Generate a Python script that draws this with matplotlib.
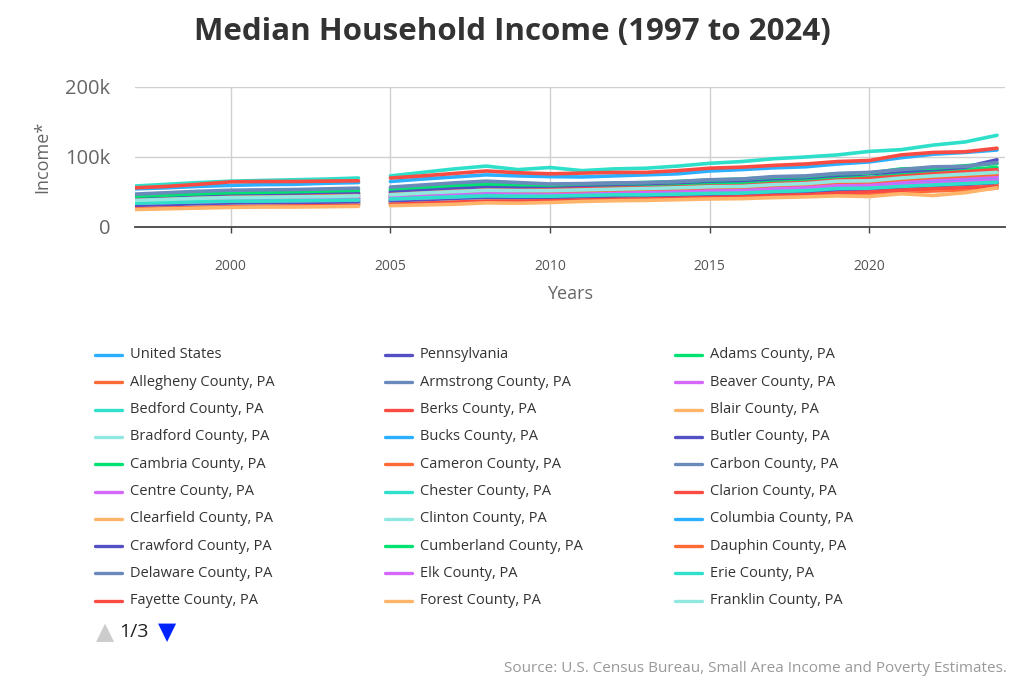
import matplotlib
matplotlib.use("Agg")
from matplotlib import pyplot as plt
from matplotlib.lines import Line2D

plt.rcParams['font.family'] = ['Open Sans', 'DejaVu Sans']

# years: two survey segments, the line breaks between 2004 and 2005
years_a = list(range(1997, 2005))
years_b = list(range(2005, 2025))

# median household income, thousands of dollars
united_states = [37.0, 38.9, 40.7, 42.0, 42.2, 42.4, 43.3, 44.3,
                 46.2, 48.5, 50.7, 52.0, 50.2, 50.0, 50.5, 51.4, 52.2, 53.7, 55.8, 57.6, 60.3, 61.9, 65.7, 67.3, 69.7, 74.6, 77.7, 80.6]
pennsylvania = [36.6, 38.0, 39.6, 40.1, 40.9, 41.5, 42.4, 43.6,
                44.5, 46.3, 48.6, 50.7, 49.5, 49.3, 50.2, 51.2, 52.0, 53.1, 55.0, 55.4, 58.0, 59.4, 63.4, 64.4, 68.9, 71.8, 76.0, 78.5]
adams = [39.5, 41.0, 43.0, 45.0, 45.5, 46.0, 47.5, 49.0,
         52.0, 54.5, 57.0, 58.5, 57.0, 56.5, 57.5, 58.5, 59.0, 60.5, 62.0, 63.0, 66.0, 67.5, 71.0, 70.5, 76.0, 78.5, 82.0, 85.0]
allegheny = [36.0, 37.5, 38.5, 39.5, 40.0, 40.5, 41.0, 41.5,
             43.5, 45.5, 47.5, 49.0, 48.5, 49.0, 50.0, 51.0, 51.5, 52.5, 54.0, 55.0, 58.0, 59.5, 63.0, 64.5, 68.0, 72.0, 75.5, 79.0]
armstrong = [31.0, 32.0, 33.5, 34.5, 35.0, 35.5, 36.0, 36.5,
             38.0, 39.5, 41.5, 43.5, 43.0, 44.0, 45.0, 46.0, 47.0, 48.5, 50.0, 50.5, 52.5, 54.0, 57.0, 58.0, 61.0, 63.5, 66.0, 68.0]
beaver = [35.0, 36.0, 37.5, 38.5, 39.0, 39.5, 40.0, 40.5,
          42.0, 44.0, 46.0, 48.0, 47.0, 47.0, 48.0, 49.0, 50.0, 51.0, 52.5, 53.0, 55.5, 57.0, 60.0, 61.0, 64.5, 67.5, 70.5, 73.0]
bedford = [29.0, 30.0, 31.5, 32.5, 33.0, 33.5, 34.0, 34.5,
           36.0, 37.5, 39.5, 41.0, 40.5, 41.0, 42.0, 43.0, 43.5, 45.0, 46.0, 46.5, 48.5, 50.0, 52.5, 54.0, 56.5, 59.0, 61.0, 63.0]
berks = [41.0, 42.5, 44.5, 46.0, 46.5, 47.0, 47.5, 48.0,
         49.5, 52.0, 54.5, 56.0, 54.5, 54.0, 55.0, 55.5, 56.0, 57.0, 58.5, 59.0, 62.0, 63.5, 67.0, 69.5, 72.5, 76.0, 79.0, 82.0]
blair = [30.0, 31.0, 32.5, 33.5, 34.0, 34.5, 35.0, 35.5,
         37.0, 38.5, 40.0, 41.5, 40.5, 41.0, 42.0, 42.5, 43.0, 44.0, 45.0, 46.0, 48.0, 49.0, 51.5, 52.0, 55.0, 57.5, 59.5, 62.0]
bradford = [31.0, 32.0, 33.5, 34.5, 35.0, 35.5, 36.0, 36.5,
            38.0, 40.0, 42.0, 44.0, 43.5, 43.5, 44.5, 45.5, 46.5, 47.5, 48.0, 49.0, 51.0, 52.5, 55.0, 56.0, 59.0, 62.0, 64.0, 66.0]
bucks = [54.5, 56.0, 58.0, 59.5, 60.5, 61.0, 62.5, 63.5,
         65.0, 68.5, 71.5, 74.5, 73.0, 72.0, 71.5, 73.0, 74.5, 76.0, 80.0, 82.0, 84.5, 86.0, 90.0, 93.0, 99.0, 104.0, 106.5, 110.0]
butler = [40.0, 41.5, 43.0, 45.0, 45.5, 46.0, 47.0, 48.0,
          50.0, 52.5, 55.0, 58.0, 57.5, 58.5, 59.5, 61.0, 62.0, 63.5, 65.5, 66.5, 69.0, 70.5, 74.0, 76.0, 79.5, 82.0, 85.5, 96.0]
cambria = [28.0, 29.0, 30.0, 31.0, 31.5, 32.0, 32.5, 33.0,
           34.5, 36.0, 37.5, 39.0, 39.0, 39.5, 40.5, 41.0, 41.5, 42.5, 44.0, 44.5, 46.5, 47.5, 49.5, 50.5, 53.0, 55.0, 56.5, 58.0]
cameron = [29.0, 30.0, 31.0, 32.0, 32.5, 32.5, 33.0, 33.5,
           34.5, 35.5, 37.0, 38.5, 38.0, 38.0, 38.5, 39.5, 40.0, 41.0, 42.0, 42.5, 44.0, 45.0, 47.0, 48.0, 50.0, 51.5, 53.0, 55.5]
carbon = [34.0, 35.0, 36.5, 37.5, 38.0, 38.5, 39.5, 40.0,
          42.0, 44.0, 46.0, 47.5, 46.5, 47.0, 47.5, 48.5, 49.5, 50.5, 52.0, 53.0, 55.0, 56.5, 59.5, 60.0, 64.0, 67.0, 69.5, 72.0]
centre = [35.0, 36.0, 37.5, 38.5, 39.0, 39.5, 40.0, 40.5,
          42.0, 43.5, 45.5, 47.5, 47.0, 47.0, 48.0, 49.0, 49.5, 50.5, 52.0, 53.5, 55.5, 57.0, 60.0, 60.5, 64.0, 67.0, 69.0, 71.5]
chester = [58.5, 61.0, 63.5, 65.5, 66.5, 67.5, 68.5, 70.0,
           73.0, 78.0, 83.0, 87.0, 82.0, 85.0, 80.5, 83.0, 84.0, 87.0, 91.0, 93.5, 97.5, 100.0, 103.0, 108.0, 110.5, 117.0, 121.5, 131.0]
clarion = [28.0, 29.0, 30.0, 31.0, 31.5, 32.0, 32.5, 33.0,
           34.5, 36.0, 37.5, 39.0, 39.5, 40.0, 40.5, 41.5, 42.0, 43.5, 45.0, 45.5, 47.0, 48.5, 51.0, 52.5, 55.0, 57.5, 59.5, 62.0]
clearfield = [28.0, 29.0, 30.0, 31.0, 31.5, 32.0, 32.5, 33.0,
              34.0, 35.5, 37.0, 38.5, 38.5, 39.0, 40.0, 41.0, 41.5, 43.0, 44.0, 44.5, 46.0, 47.0, 49.0, 50.0, 52.5, 54.5, 56.0, 58.5]
clinton = [29.5, 30.5, 32.0, 33.0, 33.5, 34.0, 34.5, 35.0,
           36.5, 38.0, 40.0, 41.5, 41.0, 41.0, 42.5, 43.5, 44.5, 46.0, 47.0, 48.0, 50.0, 51.5, 54.0, 54.5, 58.0, 60.5, 62.5, 64.5]
columbia = [32.0, 33.0, 34.5, 35.5, 36.0, 36.5, 37.0, 37.5,
            39.0, 41.0, 43.0, 45.0, 44.0, 44.0, 45.5, 46.0, 47.0, 48.0, 49.0, 50.0, 52.0, 53.5, 56.0, 57.0, 60.0, 63.0, 65.0, 67.5]
crawford = [31.0, 32.0, 33.5, 34.5, 35.0, 35.0, 35.5, 36.0,
            37.5, 39.0, 41.0, 42.5, 42.0, 42.0, 43.0, 44.0, 44.5, 45.5, 46.5, 47.0, 49.0, 50.5, 53.0, 54.0, 56.5, 59.0, 61.0, 63.5]
cumberland = [44.0, 45.5, 47.5, 49.0, 49.5, 50.5, 51.5, 52.5,
              54.5, 57.0, 59.5, 61.5, 60.5, 60.0, 61.5, 62.5, 63.5, 65.0, 67.0, 68.5, 71.0, 72.0, 76.0, 77.0, 83.0, 84.0, 87.5, 90.5]
dauphin = [38.0, 39.5, 41.0, 42.5, 43.0, 43.5, 44.5, 45.0,
           46.5, 48.5, 51.0, 52.5, 52.0, 51.5, 52.0, 53.0, 54.0, 55.0, 56.5, 57.0, 59.5, 61.0, 64.0, 64.5, 68.0, 71.0, 73.0, 75.5]
delaware = [47.0, 49.0, 51.0, 52.5, 53.0, 53.5, 54.5, 55.5,
            57.0, 60.0, 63.0, 65.5, 63.5, 61.5, 62.0, 63.0, 63.5, 65.0, 67.5, 68.5, 72.0, 73.0, 76.5, 78.0, 82.0, 86.0, 86.5, 92.0]
elk = [34.0, 35.0, 36.0, 37.0, 37.5, 37.5, 38.0, 38.5,
       40.0, 41.5, 43.0, 45.0, 44.5, 45.0, 46.0, 47.0, 47.5, 48.5, 50.0, 50.5, 52.5, 54.0, 56.5, 57.5, 60.0, 62.5, 64.5, 67.0]
erie = [34.0, 35.0, 36.0, 37.0, 37.0, 37.5, 38.0, 38.5,
        40.0, 41.5, 43.0, 44.5, 44.0, 44.0, 45.0, 46.0, 46.0, 47.0, 48.0, 48.5, 50.5, 52.0, 55.0, 55.5, 58.0, 60.0, 62.0, 64.0]
fayette = [26.0, 27.0, 28.0, 29.0, 29.5, 30.0, 30.5, 31.0,
           32.5, 34.0, 35.5, 37.0, 37.0, 37.5, 38.5, 39.5, 40.0, 41.0, 42.0, 43.0, 45.0, 46.0, 48.5, 50.0, 52.5, 54.5, 56.0, 58.0]
forest = [25.0, 26.0, 27.0, 28.0, 28.5, 28.5, 29.0, 29.5,
          30.5, 31.5, 32.5, 34.5, 34.0, 35.0, 36.5, 37.5, 38.0, 39.0, 40.0, 40.5, 42.0, 43.0, 44.5, 43.5, 47.5, 45.0, 49.0, 56.0]
franklin = [38.0, 39.5, 41.0, 42.0, 42.5, 43.0, 43.5, 44.5,
            46.0, 48.5, 50.5, 52.5, 52.0, 52.0, 53.0, 54.0, 55.0, 56.0, 57.5, 58.0, 60.5, 62.0, 65.5, 66.0, 70.0, 73.0, 75.5, 78.0]
# on a later legend page, but drawn in the plot
montgomery = [56.0, 58.0, 61.0, 64.5, 65.0, 65.0, 65.5, 66.0,
              70.0, 73.0, 76.5, 80.0, 77.5, 76.0, 77.0, 78.0, 78.0, 80.5, 84.0, 85.5, 88.0, 90.0, 93.5, 95.0, 103.0, 106.5, 107.5, 112.5]

names = ["United States", "Pennsylvania", "Adams County, PA", "Allegheny County, PA",
         "Armstrong County, PA", "Beaver County, PA", "Bedford County, PA", "Berks County, PA",
         "Blair County, PA", "Bradford County, PA", "Bucks County, PA", "Butler County, PA",
         "Cambria County, PA", "Cameron County, PA", "Carbon County, PA", "Centre County, PA",
         "Chester County, PA", "Clarion County, PA", "Clearfield County, PA", "Clinton County, PA",
         "Columbia County, PA", "Crawford County, PA", "Cumberland County, PA", "Dauphin County, PA",
         "Delaware County, PA", "Elk County, PA", "Erie County, PA", "Fayette County, PA",
         "Forest County, PA", "Franklin County, PA"]
values = [united_states, pennsylvania, adams, allegheny, armstrong, beaver, bedford, berks,
          blair, bradford, bucks, butler, cambria, cameron, carbon, centre, chester, clarion,
          clearfield, clinton, columbia, crawford, cumberland, dauphin, delaware, elk, erie,
          fayette, forest, franklin]

palette = ["#2caffe", "#544fc5", "#00e272", "#fe6a35", "#6b8abc",
           "#d568fb", "#2ee0ca", "#fa4b42", "#feb56a", "#91e8e1"]

fig = plt.figure(figsize=(10.24, 6.83), dpi=100)
W, H = 1024, 683
ax = fig.add_axes([135 / W, 1 - 227 / H, 870 / W, 140 / H])

n_a = len(years_a)
for i, vals in enumerate(values):
    c = palette[i % 10]
    ax.plot(years_a, vals[:n_a], color=c, lw=2.6, solid_capstyle='round')
    ax.plot(years_b, vals[n_a:], color=c, lw=2.6, solid_capstyle='round')
# Montgomery is series 47 -> palette slot 7
ax.plot(years_a, montgomery[:n_a], color=palette[7], lw=2.6, solid_capstyle='round')
ax.plot(years_b, montgomery[n_a:], color=palette[7], lw=2.6, solid_capstyle='round')

ax.set_xlim(1997, 2024.25)
ax.set_ylim(0, 200)
ax.set_xticks([2000, 2005, 2010, 2015, 2020])
ax.set_yticks([0, 100, 200])
ax.set_yticklabels(["0", "100k", "200k"])
ax.grid(True, color="#d0d0d0", lw=1)
ax.set_axisbelow(True)
for s in ["top", "right", "left"]:
    ax.spines[s].set_visible(False)
ax.spines["bottom"].set_color("#444444")
ax.spines["bottom"].set_linewidth(1.3)
ax.tick_params(axis='x', length=4, width=1, color="#444444", pad=19, labelsize=10, labelcolor="#555555")
ax.tick_params(axis='y', length=0, pad=18, labelsize=14.5, labelcolor="#666666")
ax.set_xlabel("Years", fontsize=13, color="#666666", labelpad=8)
ax.set_ylabel("Income*", fontsize=13, color="#666666", labelpad=10)

fig.text(0.5, 1 - 32 / H, "Median Household Income (1997 to 2024)", ha='center', va='center',
         fontsize=22.5, fontweight='bold', color="#333333")

# legend, page 1 of 3, filled row by row
col_x = [95, 385, 675]
for i, name in enumerate(names):
    r, c = divmod(i, 3)
    y = 1 - (355 + r * 27.3) / H
    x0 = col_x[c]
    fig.add_artist(Line2D([x0 / W, (x0 + 27) / W], [y, y], transform=fig.transFigure,
                          color=palette[i % 10], lw=2.4, solid_capstyle='round'))
    fig.text((x0 + 35) / W, y, name, ha='left', va='center', fontsize=10.5, color="#333333")

fig.text(105 / W, 1 - 632 / H, "\u25b2", ha='center', va='center', fontsize=17,
         color="#cccccc", family="DejaVu Sans")
fig.text(119 / W, 1 - 632 / H, "1/3", ha='left', va='center', fontsize=14, color="#222222")
fig.text(167 / W, 1 - 632 / H, "\u25bc", ha='center', va='center', fontsize=17,
         color="#0022ff", family="DejaVu Sans")

fig.text(1007 / W, 1 - 668 / H, "Source: U.S. Census Bureau, Small Area Income and Poverty Estimates.",
         ha='right', va='center', fontsize=11, color="#999999")

fig.savefig("out.png", dpi=100)
